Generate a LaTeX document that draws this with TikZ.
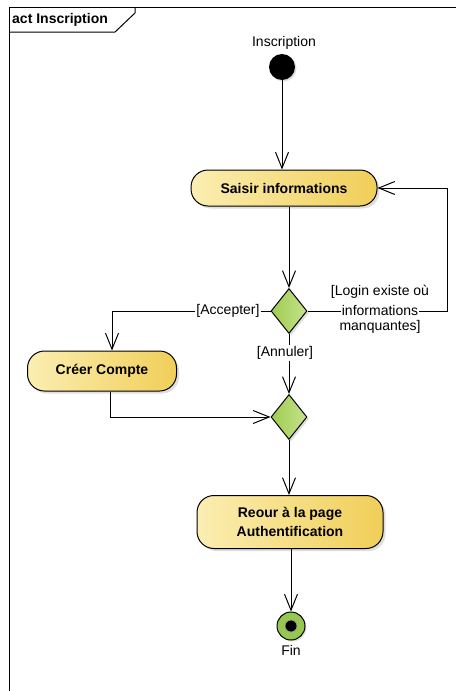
\documentclass[tikz,border=0pt]{standalone}
\usepackage{fontspec}
\setmainfont{Liberation Sans}
\usetikzlibrary{arrows.meta,shapes.geometric,shadows,calc}

\definecolor{actLeft}{RGB}{251,238,178}
\definecolor{actRight}{RGB}{240,206,88}
\definecolor{decLeft}{RGB}{160,205,80}
\definecolor{decRight}{RGB}{196,226,140}
\definecolor{finGreen}{RGB}{150,200,80}

\tikzset{
  every node/.style={font=\fontsize{14}{17}\selectfont},
  action/.style={draw=black, line width=1pt, rounded corners=17pt,
    left color=actLeft, right color=actRight, align=center,
    font=\fontsize{14}{19}\selectfont\bfseries, inner sep=0pt,
    drop shadow={shadow xshift=2.5pt, shadow yshift=-2.5pt, fill=black!25}},
  decision/.style={diamond, draw=black, line width=1pt, inner sep=0pt,
    minimum width=36pt, minimum height=45pt, aspect=0.8,
    left color=decLeft, right color=decRight,
    drop shadow={shadow xshift=2pt, shadow yshift=-2pt, fill=black!25}},
  flow/.style={draw=black, line width=1pt,
    -{Straight Barb[length=16pt,width=13pt,line width=1pt]}},
  guard/.style={fill=white, inner sep=1pt},
}

\begin{document}
\begin{tikzpicture}[x=1pt,y=-1pt]
  \useasboundingbox (0,0) rectangle (456,691);

  % diagram frame with its name tab
  \draw[line width=1pt] (9,691) -- (9,7) -- (456,7);
  \draw[line width=1pt] (9,32) -- (115,32) -- (135,13) -- (135,7);
  \node[anchor=west, font=\fontsize{14}{17}\selectfont\bfseries, inner sep=0pt] (title) at (12,20) {act Inscription};

  % initial node
  \node[circle, fill=black, minimum size=26pt, inner sep=0pt,
        drop shadow={shadow xshift=1.5pt, shadow yshift=-1.5pt, fill=black!25}] (init) at (282,67) {};
  \node (initlbl) at (284,43) {Inscription};

  % actions and decisions
  \node[action, minimum width=186pt, minimum height=36pt] (saisir) at (284,188) {Saisir informations};
  \node[decision] (d1) at (289,311) {};
  \node[action, minimum width=149pt, minimum height=40pt] (creer) at (102,371) {Créer Compte};
  \node[decision] (d2) at (289,417) {};
  \node[action, minimum width=186pt, minimum height=53pt] (reour) at (290,522) {Reour à la page\\Authentification};

  % final node
  \node[circle, draw=black, line width=1pt, fill=finGreen, minimum size=28pt, inner sep=0pt,
        drop shadow={shadow xshift=1.5pt, shadow yshift=-1.5pt, fill=black!25}] (fin) at (291,626) {};
  \node[circle, fill=black, draw=black!40, line width=0.8pt, minimum size=12pt, inner sep=0pt] (findot) at (fin) {};
  \node (finlbl) at (291,650) {Fin};

  % control flows
  \draw[flow] (init) -- (init |- saisir.north);
  \draw[flow] (d1 |- saisir.south) -- (d1.north);
  \coordinate (loopcorner) at (447,311);
  \draw[flow] (d1.east) -- (loopcorner) |- (saisir.east);
  \draw[flow] (d1.west) -| ([xshift=10pt]creer.north);
  \draw[flow] (d1.south) -- (d2.north);
  \draw[flow] ([xshift=8pt]creer.south) |- (d2.west);
  \draw[flow] (d2.south) -- (d2 |- reour.north);
  \draw[flow] (fin |- reour.south) -- (fin.north);

  % guards
  \node[guard] (gacc) at (228,311) {[Accepter]};
  \node[guard] (gann) at (285,353) {[Annuler]};
  \node (glogin1) at (380,292) {[Login existe où};
  \node[guard] (glogin2) at (380,310) {informations};
  \node (glogin3) at (380,327) {manquantes]};
\end{tikzpicture}
\end{document}
